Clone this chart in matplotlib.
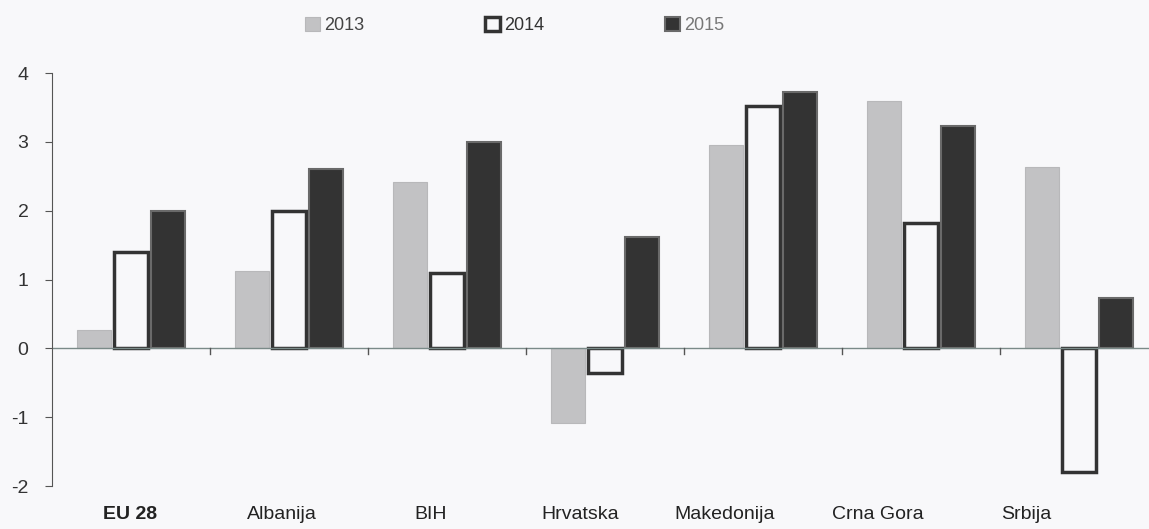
import numpy as np
from matplotlib import pyplot as plt
from matplotlib import transforms

countries = ['EU 28', 'Albanija', 'BIH', 'Hrvatska', 'Makedonija', 'Crna Gora', 'Srbija']
years = ['2013', '2014', '2015']
y2013 = [0.27, 1.13, 2.42, -1.08, 2.95, 3.60, 2.63]
y2014 = [1.40, 2.00, 1.10, -0.35, 3.52, 1.82, -1.80]
y2015 = [2.00, 2.60, 3.00, 1.62, 3.73, 3.23, 0.73]
# category labels in the source sit a bit left of their groups
label_px = [130, 282, 431, 580, 725, 878, 1026]

plt.rcParams['font.family'] = ['Liberation Sans', 'DejaVu Sans']
plt.rcParams['axes.unicode_minus'] = False

fig = plt.figure(figsize=(11.49, 5.29), dpi=100, facecolor='#f8f8fa')
ax = fig.add_axes([0.0453, 0.081, 0.9626, 0.781])
ax.set_facecolor('#f8f8fa')

x = np.arange(len(countries))
w = 0.215
step = 0.234
ax.bar(x - step, y2013, w, color='#c2c2c4', edgecolor='#b8b8ba', linewidth=0.8, label=years[0])
ax.bar(x, y2014, w, color='#f8f8fa', edgecolor='#333333', linewidth=2.5, label=years[1])
ax.bar(x + step, y2015, w, color='#333333', edgecolor='#6a6a6a', linewidth=1.5, label=years[2])

ax.axhline(0, color='#7a8a88', linewidth=1)
# small tick marks between groups on the zero line
for b in x[:-1] + 0.5:
    ax.plot([b, b], [0, -0.08], color='#555555', linewidth=1)

ax.set_xlim(-0.5, 6.5)
ax.set_ylim(-2, 4)
ax.set_yticks(range(-2, 5))
ax.tick_params(axis='y', direction='out', length=5, labelsize=14, colors='#555555',
               labelcolor='#333333', pad=12)
ax.set_xticks([])
for s in ['top', 'right', 'bottom']:
    ax.spines[s].set_visible(False)
ax.spines['left'].set_color('#555555')

for c, px in zip(countries, label_px):
    fig.text(px / 1149, 0.012, c, ha='center', va='bottom', fontsize=14,
             color='#222222', fontweight='bold' if c == 'EU 28' else 'normal')

leg = ax.legend(loc='center left', bbox_to_anchor=(0.229, 1.115), ncol=3, frameon=False,
                fontsize=13, handlelength=0.8, handleheight=0.8, handletextpad=0.25,
                columnspacing=6.7, borderpad=0, borderaxespad=0)
for t, col in zip(leg.get_texts(), ['#444444', '#333333', '#777777']):
    t.set_color(col)

plt.savefig('out.png', dpi=100, facecolor=fig.get_facecolor())
